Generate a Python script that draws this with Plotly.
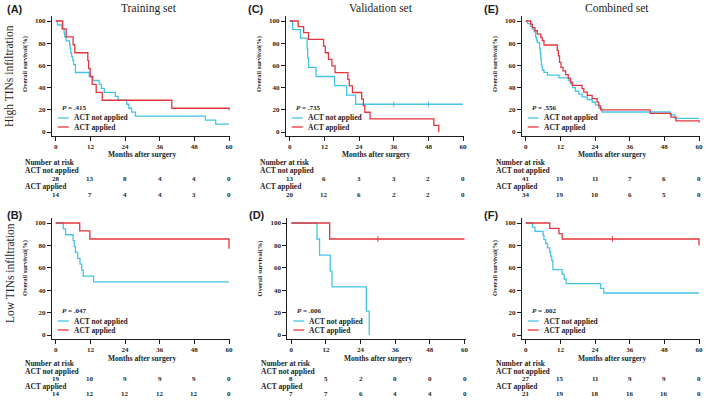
import plotly.graph_objects as go

W, H = 709, 400
CYAN = "#45C4E6"
RED = "#E3363C"
INK = "#1e1e1e"
FONT = "Liberation Serif"

months = [0, 12, 24, 36, 48, 60]
yticks = [0, 20, 40, 60, 80, 100]
col_titles = ["Training set", "Validation set", "Combined set"]
row_titles = ["High TINs infiltration", "Low TINs infiltration"]
group_names = ["ACT not applied", "ACT applied"]

# ---------- Kaplan-Meier step data (months, survival %) ----------
A_not_t = [0, 0.6, 2.1, 2.9, 3.1, 3.6, 4.8, 5.0, 5.2, 5.5, 5.9, 6.2, 6.8, 11.6, 12.9, 15.0, 15.8, 16.8, 20.6, 21.6, 24.6, 25.3, 26.3, 27.6, 51.8, 55.4, 60]
A_not_s = [100, 96.4, 92.9, 89.3, 85.7, 82.1, 78.6, 75.0, 71.4, 67.9, 64.3, 60.7, 53.6, 50.0, 46.4, 42.9, 39.3, 35.7, 32.1, 28.6, 25.0, 21.4, 17.9, 14.3, 10.7, 7.1, 7.1]
A_act_t = [0, 2.4, 3.6, 6.0, 6.6, 11.1, 11.4, 11.9, 12.6, 14.0, 16.1, 40.2, 60, 60]
A_act_s = [100, 92.9, 85.7, 78.6, 71.4, 64.3, 57.1, 50.0, 42.9, 35.7, 28.6, 21.4, 21.4, 19.5]

B_not_t = [0, 2.6, 3.4, 6.0, 6.4, 6.8, 7.6, 8.4, 9.0, 9.5, 13.1, 60]
B_not_s = [100, 94.7, 89.5, 84.2, 78.9, 73.7, 68.4, 63.2, 57.9, 52.6, 47.4, 47.4]
B_act_t = [0, 8.3, 11.8, 60, 60]
B_act_s = [100, 92.9, 85.7, 85.7, 77.0]

C_not_t = [0, 1.0, 3.7, 6.0, 6.2, 6.5, 9.1, 15.5, 19.7, 22.8, 60]
C_not_s = [100, 92.3, 84.6, 75.0, 66.7, 58.3, 50.0, 41.7, 33.3, 25.0, 25.0]
C_act_t = [0, 2.9, 4.8, 6.5, 11.7, 12.3, 13.4, 14.6, 15.7, 20.1, 20.6, 21.7, 24.9, 25.5, 26.0, 27.8, 49.9, 51.6]
C_act_s = [100, 95.0, 89.5, 83.4, 77.4, 71.4, 65.4, 59.5, 53.5, 47.5, 41.6, 35.6, 29.7, 23.7, 17.8, 11.9, 5.9, 0]
C_not_cens_t = [36, 48]
C_not_cens_s = [25.0, 25.0]

D_not_t = [0, 8.9, 9.8, 13.5, 14.1, 26.0, 27.0]
D_not_s = [100, 85.7, 71.4, 57.1, 42.9, 21.4, 0]
D_act_t = [0, 13.3, 60]
D_act_s = [100, 85.7, 85.7]
D_act_cens_t = [30]
D_act_cens_s = [85.7]

E_not_t = [0, 0.6, 1.7, 2.3, 2.9, 3.4, 3.7, 4.0, 4.8, 5.0, 5.2, 5.4, 5.6, 5.8, 6.3, 7.5, 11.5, 14.9, 15.5, 16.3, 17.2, 18.4, 19.5, 21.3, 23.0, 24.1, 25.3, 26.4, 50.0, 51.7, 60]
E_not_s = [100, 97.6, 95.1, 92.7, 90.2, 85.4, 82.9, 80.5, 75.6, 70.7, 65.9, 61.0, 58.5, 56.1, 53.7, 51.2, 48.8, 46.3, 43.9, 40.0, 36.6, 34.1, 31.7, 29.3, 26.8, 24.4, 21.5, 18.0, 15.4, 12.2, 12.2]
E_act_t = [0, 1.7, 2.3, 3.2, 4.0, 5.2, 5.7, 6.3, 10.9, 11.3, 11.7, 12.2, 12.9, 13.8, 14.7, 15.5, 16.1, 19.5, 20.1, 21.3, 23.0, 24.7, 25.3, 25.9, 27.0, 43.1, 50.3, 52.0, 60, 60]
E_act_s = [100, 97.1, 94.1, 91.2, 88.2, 85.3, 82.4, 78.4, 73.5, 68.6, 62.7, 58.3, 55.0, 51.6, 48.3, 45.0, 42.0, 39.0, 36.0, 33.0, 30.0, 27.0, 23.5, 20.0, 20.0, 16.8, 13.4, 10.1, 10.1, 8.5]

F_not_t = [0, 2.3, 3.2, 6.0, 6.3, 6.9, 7.5, 8.3, 8.6, 9.0, 9.4, 12.6, 13.3, 14.0, 25.9, 27.0, 60]
F_not_s = [100, 96.3, 92.6, 88.9, 85.2, 81.5, 77.8, 74.1, 70.4, 66.7, 58.3, 54.2, 50.0, 45.8, 41.7, 37.5, 37.5]
F_act_t = [0, 8.3, 11.5, 12.6, 60, 60]
F_act_s = [100, 95.2, 90.5, 85.7, 85.7, 80.0]
F_act_cens_t = [30]
F_act_cens_s = [85.7]

p_values = {"A": ".415", "B": ".047", "C": ".735", "D": ".006", "E": ".556", "F": ".002"}

risk_not = {"A": [28, 13, 8, 4, 4, 0], "B": [19, 10, 9, 9, 9, 0],
            "C": [13, 6, 3, 3, 2, 0], "D": [8, 5, 2, 0, 0, 0],
            "E": [41, 19, 11, 7, 6, 0], "F": [27, 15, 11, 9, 9, 0]}
risk_act = {"A": [14, 7, 4, 4, 3, 0], "B": [14, 12, 12, 12, 12, 0],
            "C": [20, 12, 6, 2, 2, 0], "D": [7, 7, 6, 4, 4, 0],
            "E": [34, 19, 10, 6, 5, 0], "F": [21, 19, 18, 16, 16, 0]}

curves = {
    "A": (A_not_t, A_not_s, A_act_t, A_act_s),
    "B": (B_not_t, B_not_s, B_act_t, B_act_s),
    "C": (C_not_t, C_not_s, C_act_t, C_act_s),
    "D": (D_not_t, D_not_s, D_act_t, D_act_s),
    "E": (E_not_t, E_not_s, E_act_t, E_act_s),
    "F": (F_not_t, F_not_s, F_act_t, F_act_s),
}
censors = {
    "C": [(C_not_cens_t, C_not_cens_s, CYAN)],
    "D": [(D_act_cens_t, D_act_cens_s, RED)],
    "F": [(F_act_cens_t, F_act_cens_s, RED)],
}

# ---------- layout geometry (screen pixels) ----------
geom = {
    "A": dict(x0=56.0, y100=21, y0=132, col=0, row=0, ax=""),
    "C": dict(x0=291.0, y100=21, y0=132, col=1, row=0, ax="3"),
    "E": dict(x0=528.0, y100=21, y0=132, col=2, row=0, ax="5"),
    "B": dict(x0=56.0, y100=223, y0=335, col=0, row=1, ax="2"),
    "D": dict(x0=292.5, y100=223, y0=335, col=1, row=1, ax="4"),
    "F": dict(x0=528.0, y100=223, y0=335, col=2, row=1, ax="6"),
}
XSPAN = 174.0

def px(x):
    return x / W

def py(y):
    return 1 - y / H

fig = go.Figure()
annotations = []
shapes = []
layout_axes = {}

tickfont = dict(family=FONT, size=7, color=INK, weight="bold")

for key, g in geom.items():
    ax = g["ax"]
    xname, yname = "x" + ax, "y" + ax
    pxm = XSPAN / 60.0
    pyp = (g["y0"] - g["y100"]) / 100.0
    left, right = g["x0"] - 4, g["x0"] + XSPAN + 1
    top, bottom = g["y100"] - 5, g["y0"] + 4
    xr = [-(g["x0"] - left) / pxm, (right - g["x0"]) / pxm]
    yr = [-(bottom - g["y0"]) / pyp, (g["y0"] - top) / pyp]

    layout_axes["xaxis" + ax] = dict(
        domain=[px(left), px(right)], range=xr, anchor=yname,
        showline=True, linecolor=INK, linewidth=1, ticks="outside",
        ticklen=4, tickwidth=1, tickcolor=INK, tickvals=months,
        ticktext=[str(m) for m in months], tickfont=tickfont,
        showgrid=False, zeroline=False, fixedrange=True)
    layout_axes["yaxis" + ax] = dict(
        domain=[py(bottom), py(top)], range=yr, anchor=xname,
        showline=True, linecolor=INK, linewidth=1, ticks="outside",
        ticklen=4, tickwidth=1, tickcolor=INK, tickvals=yticks,
        tickfont=tickfont, showgrid=False, zeroline=False, fixedrange=True)

    nt, ns, at, as_ = curves[key]
    fig.add_trace(go.Scatter(x=nt, y=ns, mode="lines", xaxis=xname, yaxis=yname,
                             line=dict(shape="hv", color=CYAN, width=1.3),
                             showlegend=False, hoverinfo="skip"))
    fig.add_trace(go.Scatter(x=at, y=as_, mode="lines", xaxis=xname, yaxis=yname,
                             line=dict(shape="hv", color=RED, width=1.3),
                             showlegend=False, hoverinfo="skip"))
    for ct, cs, cc in censors.get(key, []):
        fig.add_trace(go.Scatter(x=ct, y=cs, mode="markers", xaxis=xname, yaxis=yname,
                                 marker=dict(symbol="line-ns", size=4, line=dict(color=cc, width=1)),
                                 showlegend=False, hoverinfo="skip"))

    row, col = g["row"], g["col"]
    base = 0 if row == 0 else 202
    # panel letter
    annotations.append(dict(text="<b>(%s)</b>" % key, x=px(g["x0"] - 51 + (0 if col == 0 else 7)),
                            y=py(9 + base + (4 if row == 1 else 0)), xref="paper", yref="paper", showarrow=False,
                            xanchor="left", yanchor="middle",
                            font=dict(family="Liberation Sans", size=11, color=INK)))
    # y-axis title
    annotations.append(dict(text="<b>Overall survival(%)</b>", x=px(g["x0"] - 31), y=py(64 + base + (2 if row == 1 else 0)),
                            xref="paper", yref="paper", showarrow=False, textangle=-90,
                            xanchor="center", yanchor="middle",
                            font=dict(family=FONT, size=6.5, color=INK)))
    # x-axis title
    annotations.append(dict(text="<b>Months after surgery</b>", x=30, xref=xname,
                            y=py(g["y0"] + 23), yref="paper", showarrow=False,
                            xanchor="center", yanchor="middle",
                            font=dict(family=FONT, size=7.5, color=INK)))
    # p value
    annotations.append(dict(text="<b><i>P</i> = %s</b>" % p_values[key], x=px(g["x0"] + 4),
                            y=py(g["y0"] - 24), xref="paper", yref="paper", showarrow=False,
                            xanchor="left", yanchor="middle",
                            font=dict(family=FONT, size=7, color=INK)))
    # legend
    for i, (name, colr) in enumerate(zip(group_names, [CYAN, RED])):
        yy = g["y0"] - 14 + 9 * i
        shapes.append(dict(type="line", xref="paper", yref="paper",
                           x0=px(g["x0"] + 2), x1=px(g["x0"] + 13), y0=py(yy), y1=py(yy),
                           line=dict(color=colr, width=1.3)))
        annotations.append(dict(text="<b>%s</b>" % name, x=px(g["x0"] + 16), y=py(yy),
                                xref="paper", yref="paper", showarrow=False,
                                xanchor="left", yanchor="middle",
                                font=dict(family=FONT, size=7.5, color=INK)))
    # risk table
    lx = g["x0"] - 33 + (0 if col == 0 else 1)
    if row == 0:
        ry = g["y0"] + 30
        offs = [0, 8.5, 24.5]
        voffs = [16.5, 32.5]
    else:
        ry = g["y0"] + 28
        offs = [0, 8.3, 23.6]
        voffs = [15.8, 31.0]
    for txt, dy in zip(["Number at risk", group_names[0], group_names[1]], offs):
        annotations.append(dict(text="<b>%s</b>" % txt, x=px(lx), y=py(ry + dy),
                                xref="paper", yref="paper", showarrow=False,
                                xanchor="left", yanchor="middle",
                                font=dict(family=FONT, size=7.5, color=INK)))
    for vals, dy in zip([risk_not[key], risk_act[key]], voffs):
        for m, v in zip(months, vals):
            annotations.append(dict(text="<b>%d</b>" % v, x=m, xref=xname,
                                    y=py(ry + dy), yref="paper", showarrow=False,
                                    xanchor="center", yanchor="middle",
                                    font=dict(family=FONT, size=7, color=INK)))

# column titles
for t, cx in zip(col_titles, [150, 383, 620]):
    annotations.append(dict(text=t, x=px(cx), y=py(8), xref="paper", yref="paper",
                            showarrow=False, xanchor="center", yanchor="middle",
                            font=dict(family=FONT, size=11.5, color=INK)))
# row titles
for t, cy in zip(row_titles, [76, 273]):
    annotations.append(dict(text=t, x=px(10), y=py(cy), xref="paper", yref="paper",
                            showarrow=False, textangle=-90, xanchor="center", yanchor="middle",
                            font=dict(family=FONT, size=11.5, color=INK)))

fig.update_layout(width=W, height=H, margin=dict(l=0, r=0, t=0, b=0),
                  paper_bgcolor="white", plot_bgcolor="white",
                  annotations=annotations, shapes=shapes, **layout_axes)

# remove the browser's default body margin so the figure starts at the page corner
fig.write_html("out.html", config={"displayModeBar": False},
               post_script="document.body.style.margin='0';document.body.style.overflow='hidden';")
